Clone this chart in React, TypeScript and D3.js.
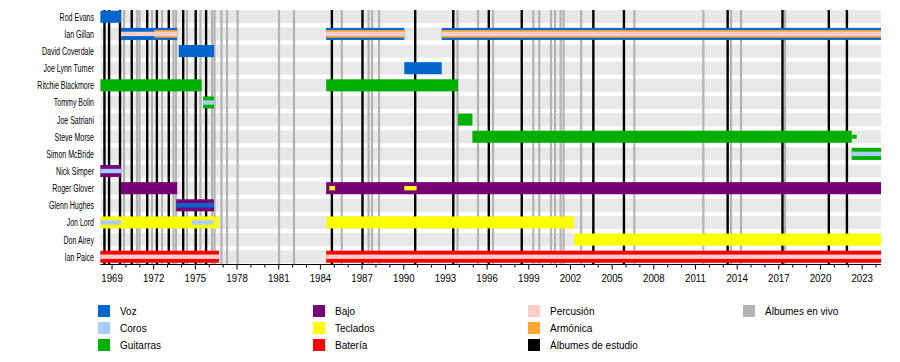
import React, { useEffect, useRef } from 'react';
import * as d3 from 'd3';

interface Stint {
  member: string;
  role: string;
  from: string;
  till: string;
}

const members = [
  'Rod Evans',
  'Ian Gillan',
  'David Coverdale',
  'Joe Lynn Turner',
  'Ritchie Blackmore',
  'Tommy Bolin',
  'Joe Satriani',
  'Steve Morse',
  'Simon McBride',
  'Nick Simper',
  'Roger Glover',
  'Glenn Hughes',
  'Jon Lord',
  'Don Airey',
  'Ian Paice',
];

const roles = [
  'Voz',
  'Coros',
  'Guitarras',
  'Bajo',
  'Teclados',
  'Batería',
  'Percusión',
  'Armónica',
  'Álbumes de estudio',
  'Álbumes en vivo',
];
const roleColors = [
  '#0066cc',
  '#aaccff',
  '#00b000',
  '#770077',
  '#ffff00',
  '#ff0000',
  '#ffcccc',
  '#ffa533',
  '#000000',
  '#b3b3b3',
];

const periodStart = '1968-03-01';
const periodEnd = '2024-05-10';

// main instrument, one entry per stint
const mainBars: Stint[] = [
  { member: 'Rod Evans', role: 'Voz', from: '1968-03-01', till: '1969-08-25' },
  { member: 'Ian Gillan', role: 'Voz', from: '1969-08-25', till: '1973-09-10' },
  { member: 'Ian Gillan', role: 'Voz', from: '1984-06-01', till: '1990-01-15' },
  { member: 'Ian Gillan', role: 'Voz', from: '1992-09-25', till: '2024-05-10' },
  { member: 'David Coverdale', role: 'Voz', from: '1973-10-20', till: '1976-05-05' },
  { member: 'Joe Lynn Turner', role: 'Voz', from: '1990-01-15', till: '1992-09-25' },
  { member: 'Ritchie Blackmore', role: 'Guitarras', from: '1968-03-01', till: '1975-06-15' },
  { member: 'Ritchie Blackmore', role: 'Guitarras', from: '1984-06-01', till: '1993-11-28' },
  { member: 'Tommy Bolin', role: 'Guitarras', from: '1975-07-25', till: '1976-05-05' },
  { member: 'Joe Satriani', role: 'Guitarras', from: '1993-11-28', till: '1994-12-10' },
  { member: 'Steve Morse', role: 'Guitarras', from: '1994-12-10', till: '2022-04-01' },
  { member: 'Simon McBride', role: 'Guitarras', from: '2022-04-01', till: '2024-05-10' },
  { member: 'Nick Simper', role: 'Bajo', from: '1968-03-01', till: '1969-08-25' },
  { member: 'Roger Glover', role: 'Bajo', from: '1969-08-25', till: '1973-09-10' },
  { member: 'Roger Glover', role: 'Bajo', from: '1984-06-01', till: '2024-05-10' },
  { member: 'Glenn Hughes', role: 'Bajo', from: '1973-08-15', till: '1976-05-05' },
  { member: 'Jon Lord', role: 'Teclados', from: '1968-03-01', till: '1976-09-12' },
  { member: 'Jon Lord', role: 'Teclados', from: '1984-06-01', till: '2002-04-05' },
  { member: 'Don Airey', role: 'Teclados', from: '2002-04-05', till: '2024-05-10' },
  { member: 'Ian Paice', role: 'Batería', from: '1968-03-01', till: '1976-09-12' },
  { member: 'Ian Paice', role: 'Batería', from: '1984-06-01', till: '2024-05-10' },
];

// secondary roles, drawn inside the main bar
const stripes: Stint[] = [
  { member: 'Ian Gillan', role: 'Armónica', from: '1972-01-20', till: '1973-09-10' },
  { member: 'Ian Gillan', role: 'Armónica', from: '1984-06-01', till: '1990-01-15' },
  { member: 'Ian Gillan', role: 'Armónica', from: '1992-09-25', till: '2024-05-10' },
  { member: 'Ian Gillan', role: 'Percusión', from: '1969-08-25', till: '1973-09-10' },
  { member: 'Ian Gillan', role: 'Percusión', from: '1984-06-01', till: '1990-01-15' },
  { member: 'Ian Gillan', role: 'Percusión', from: '1992-09-25', till: '2024-05-10' },
  { member: 'Tommy Bolin', role: 'Coros', from: '1975-07-25', till: '1976-05-05' },
  { member: 'Simon McBride', role: 'Coros', from: '2022-04-01', till: '2024-05-10' },
  { member: 'Nick Simper', role: 'Coros', from: '1968-03-01', till: '1969-08-25' },
  { member: 'Roger Glover', role: 'Teclados', from: '1984-08-25', till: '1985-01-20' },
  { member: 'Roger Glover', role: 'Teclados', from: '1990-01-15', till: '1990-12-05' },
  { member: 'Glenn Hughes', role: 'Voz', from: '1973-08-15', till: '1976-05-05' },
  { member: 'Jon Lord', role: 'Coros', from: '1968-03-01', till: '1969-08-25' },
  { member: 'Jon Lord', role: 'Coros', from: '1974-09-25', till: '1976-05-05' },
  { member: 'Ian Paice', role: 'Percusión', from: '1968-03-01', till: '1976-09-12' },
  { member: 'Ian Paice', role: 'Percusión', from: '1984-06-01', till: '2024-05-10' },
];

// leave of absence
const onLeave: Stint[] = [
  { member: 'Steve Morse', role: 'Guitarras', from: '2022-04-01', till: '2022-08-10' },
];

const studioAlbums = [
  '1968-06-15', '1968-10-15', '1969-07-30', '1970-06-03', '1971-07-15',
  '1972-03-25', '1973-02-01', '1974-02-15', '1975-01-10', '1975-10-10',
  '1984-10-29', '1987-01-12', '1990-10-29', '1993-07-26', '1996-02-15',
  '1998-06-30', '2003-08-26', '2005-11-07', '2013-04-26', '2017-04-07',
  '2020-08-07', '2021-11-26',
];

const liveAlbums = [
  '1969-11-12', '1970-10-20', '1970-12-24', '1971-11-17', '1972-08-08',
  '1973-06-05', '1973-08-11', '1974-05-27', '1975-05-15', '1976-03-14',
  '1976-05-19', '1976-11-17', '1977-04-13', '1978-01-15', '1981-01-08',
  '1982-02-06', '1985-07-16', '1987-06-21', '1987-09-20', '1988-03-22',
  '1993-11-14', '1995-05-08', '1996-06-06', '1999-04-30', '1999-10-04',
  '2000-08-08', '2000-11-21', '2001-04-16', '2001-07-05', '2002-10-09',
  '2006-08-08', '2011-07-27', '2013-07-24', '2014-04-13', '2017-06-14',
];

const labelYears = [
  1969, 1972, 1975, 1978, 1981, 1984, 1987, 1990, 1993, 1996,
  1999, 2002, 2005, 2008, 2011, 2014, 2017, 2020, 2023,
];

const parse = d3.timeParse('%Y-%m-%d');
const font = '"Liberation Sans", Arial, Helvetica, sans-serif';

export default function App() {
  const ref = useRef<SVGSVGElement>(null);

  useEffect(() => {
    const svg = d3.select(ref.current);
    svg.selectAll('*').remove();

    const x = d3
      .scaleTime()
      .domain([parse(periodStart) as Date, parse(periodEnd) as Date])
      .range([100.4, 881]);
    const y = d3.scaleBand().domain(members).range([8.2, 265.3]);
    const color = d3.scaleOrdinal<string, string>().domain(roles).range(roleColors);
    const mid = (m: string) => (y(m) as number) + y.bandwidth() / 2;
    const barH = 12;
    const stripeH = (role: string) => (role === 'Armónica' ? 7.6 : 4.4);

    const plotTop = 10;
    const axisY = 264.5;

    // row backgrounds
    svg
      .append('g')
      .selectAll('rect')
      .data(members)
      .join('rect')
      .attr('x', x.range()[0])
      .attr('width', x.range()[1] - x.range()[0])
      .attr('y', (d) => mid(d) - 6.5)
      .attr('height', 13)
      .attr('fill', '#e8e8e8');

    // live albums
    svg
      .append('g')
      .selectAll('line')
      .data(liveAlbums)
      .join('line')
      .attr('x1', (d) => x(parse(d) as Date))
      .attr('x2', (d) => x(parse(d) as Date))
      .attr('y1', plotTop)
      .attr('y2', axisY)
      .attr('stroke', color('Álbumes en vivo'))
      .attr('stroke-width', 2.2);

    // studio albums
    svg
      .append('g')
      .selectAll('line')
      .data(studioAlbums)
      .join('line')
      .attr('x1', (d) => x(parse(d) as Date))
      .attr('x2', (d) => x(parse(d) as Date))
      .attr('y1', plotTop)
      .attr('y2', axisY)
      .attr('stroke', '#000')
      .attr('stroke-width', 2.4);

    const drawBars = (data: Stint[], h: (d: Stint) => number) => {
      svg
        .append('g')
        .selectAll('rect')
        .data(data)
        .join('rect')
        .attr('x', (d) => x(parse(d.from) as Date))
        .attr('width', (d) => x(parse(d.till) as Date) - x(parse(d.from) as Date))
        .attr('y', (d) => mid(d.member) - h(d) / 2)
        .attr('height', h)
        .attr('fill', (d) => color(d.role));
    };
    drawBars(mainBars, () => barH);
    drawBars(onLeave, () => 4);
    drawBars(stripes, (d) => stripeH(d.role));

    // member names
    svg
      .append('g')
      .selectAll('text')
      .data(members)
      .join('text')
      .attr('transform', (d) => `translate(94,${mid(d) + 4}) scale(0.64,1)`)
      .attr('text-anchor', 'end')
      .attr('font-family', font)
      .attr('font-size', 11)
      .text((d) => d);

    // time axis
    const axis = svg.append('g');
    axis
      .append('line')
      .attr('x1', x.range()[0])
      .attr('x2', x.range()[1])
      .attr('y1', axisY)
      .attr('y2', axisY)
      .attr('stroke', '#000');
    axis
      .selectAll('line.minor')
      .data(d3.range(1969, 2025))
      .join('line')
      .attr('class', 'minor')
      .attr('x1', (d) => x(new Date(d, 0, 1)))
      .attr('x2', (d) => x(new Date(d, 0, 1)))
      .attr('y1', axisY)
      .attr('y2', (d) => axisY + (labelYears.includes(d) ? 5 : 3))
      .attr('stroke', '#000');
    axis
      .selectAll('text')
      .data(labelYears)
      .join('text')
      .attr('transform', (d) => `translate(${x(new Date(d, 0, 1))},281.5) scale(0.88,1)`)
      .attr('text-anchor', 'middle')
      .attr('font-family', font)
      .attr('font-size', 11)
      .text((d) => d);

    // legend, three entries per column
    const legend = svg
      .append('g')
      .selectAll('g')
      .data(roles)
      .join('g')
      .attr('transform', (_, i) => `translate(${98 + Math.floor(i / 3) * 215},${305 + (i % 3) * 17})`);
    legend
      .append('rect')
      .attr('width', 12)
      .attr('height', 12)
      .attr('fill', (d) => color(d));
    legend
      .append('text')
      .attr('x', 22)
      .attr('y', 10)
      .attr('font-family', font)
      .attr('font-size', 10)
      .text((d) => d);
  }, []);

  return (
    <svg
      ref={ref}
      width={900}
      height={362}
      style={{ position: 'absolute', left: 0, top: 0, background: '#fff' }}
    />
  );
}
